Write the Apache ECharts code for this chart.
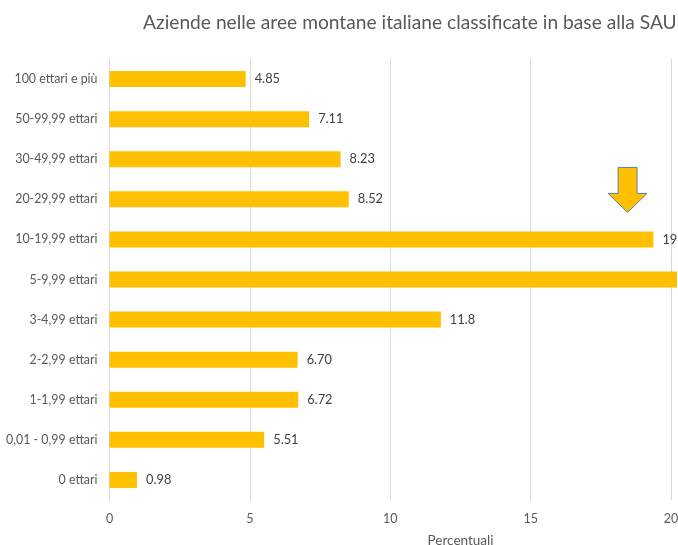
<!DOCTYPE html>
<html>
<head>
<meta charset="utf-8">
<script src="https://cdn.jsdelivr.net/npm/echarts@6/dist/echarts.min.js"></script>
<style>
html,body{margin:0;padding:0;background:#fff;}
#chart{width:678px;height:545px;}
</style>
</head>
<body>
<div id="chart"></div>
<script>
var titleText = 'Aziende nelle aree montane italiane classificate in base alla SAU';
var categories = ['100 ettari e più','50-99,99 ettari','30-49,99 ettari','20-29,99 ettari','10-19,99 ettari','5-9,99 ettari','3-4,99 ettari','2-2,99 ettari','1-1,99 ettari','0,01 - 0,99 ettari','0 ettari'];
var values = [4.85, 7.11, 8.23, 8.52, 19.37, 20.21, 11.8, 6.70, 6.72, 5.51, 0.98];
var valueLabels = ['4.85','7.11','8.23','8.52','19.37','20.21','11.8','6.70','6.72','5.51','0.98'];
var xTicks = [0, 5, 10, 15, 20, 25];
var axisName = 'Percentuali';
var arrowAt = {value: 18.45, category: '10-19,99 ettari'};

var FONT = 'Lato, "Open Sans", sans-serif';
var chart = echarts.init(document.getElementById('chart'), null, {renderer:'canvas'});
var option = {
  animation: false,
  backgroundColor: '#ffffff',
  title: {
    text: titleText, left: 138, top: 8,
    textStyle: {fontFamily: FONT, fontSize: 19.2, fontWeight: 'normal', color: '#595959'}
  },
  grid: {left: 109.5, top: 59, width: 702, height: 441, containLabel: false, outerBoundsMode: 'none'},
  xAxis: {
    type: 'value', min: xTicks[0], max: xTicks[xTicks.length-1], interval: 5,
    name: axisName, nameLocation: 'middle', nameGap: 34,
    nameTextStyle: {fontFamily: FONT, fontSize: 13.5, color: '#595959'},
    axisLine: {show: false}, axisTick: {show: false},
    axisLabel: {fontFamily: FONT, fontSize: 12.5, color: '#595959', margin: 12},
    splitLine: {show: true, lineStyle: {color: '#d9d9d9', width: 1}}
  },
  yAxis: {
    type: 'category', data: categories, inverse: true,
    axisLine: {show: false}, axisTick: {show: false},
    axisLabel: {fontFamily: FONT, fontSize: 12.4, color: '#595959', margin: 12}
  },
  series: [{
    type: 'bar', data: values, barWidth: 16,
    itemStyle: {color: '#ffc000'},
    label: {
      show: true, position: 'right', distance: 9,
      fontFamily: FONT, fontSize: 12.8, color: '#404040',
      formatter: function(p){ return valueLabels[p.dataIndex]; }
    }
  }]
};
chart.setOption(option);

var c = chart.convertToPixel({gridIndex: 0}, [arrowAt.value, arrowAt.category]);
var ax = c[0], barY = c[1];
var shaftTop = barY - 72, headY = barY - 46, tipY = barY - 27;
chart.setOption({
  graphic: [{
    type: 'polygon',
    shape: {points: [[ax-9.5, shaftTop],[ax+9.5, shaftTop],[ax+9.5, headY],[ax+19.5, headY],[ax, tipY],[ax-19.5, headY],[ax-9.5, headY]]},
    style: {fill: '#ffc000', stroke: '#5b7fa6', lineWidth: 1}
  }]
});
</script>
</body>
</html>
